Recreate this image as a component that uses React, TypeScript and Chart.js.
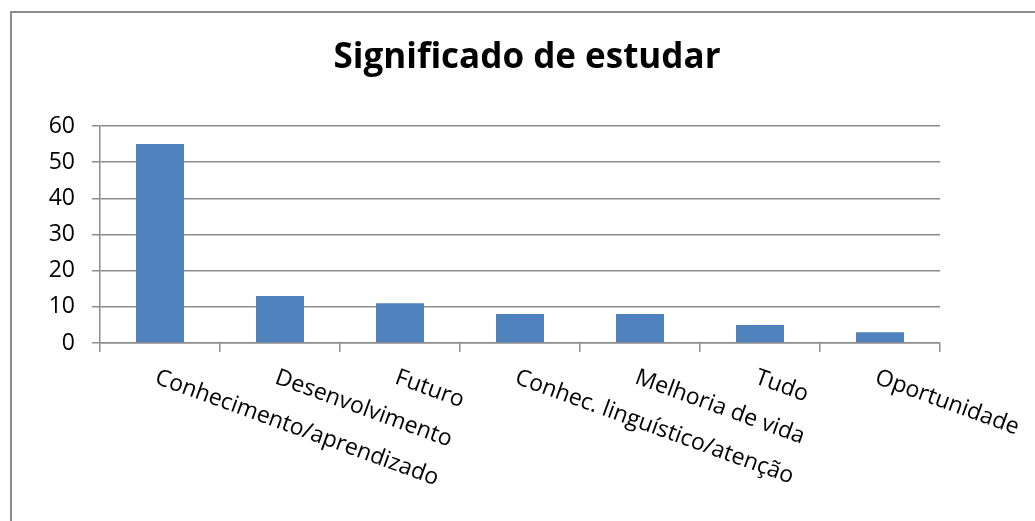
import React, { useEffect, useRef } from "react";
import { Chart, registerables } from "chart.js";

Chart.register(...registerables);

const chartTitle = "Significado de estudar";
const categories = [
  "Conhecimento/aprendizado",
  "Desenvolvimento",
  "Futuro",
  "Conhec. linguístico/atenção",
  "Melhoria de vida",
  "Tudo",
  "Oportunidade",
];
const values = [55, 13, 11, 8, 8, 5, 3];
const yTicks = [0, 10, 20, 30, 40, 50, 60];

const gridColor = "#8c8c8c";
const barColor = "#4F81BD";
const FONT = "'Open Sans', 'Noto Sans', sans-serif";

export default function App() {
  const ref = useRef<HTMLCanvasElement>(null);

  useEffect(() => {
    document.body.style.margin = "0";
    const canvas = ref.current;
    if (!canvas) return;

    const framePlugin = {
      id: "frame",
      beforeDraw(chart: any) {
        const c = chart.ctx;
        c.save();
        c.strokeStyle = "#8c8c8c";
        c.lineWidth = 2;
        c.beginPath();
        c.moveTo(11, chart.height);
        c.lineTo(11, 12);
        c.lineTo(chart.width, 12);
        c.stroke();
        c.restore();
      },
    };

    const titlePlugin = {
      id: "titleText",
      afterDraw(chart: any) {
        const c = chart.ctx;
        c.save();
        c.font = `bold 35px ${FONT}`;
        c.fillStyle = "#000";
        c.textAlign = "center";
        c.textBaseline = "middle";
        c.fillText(chartTitle, 527, 58);
        c.restore();
      },
    };

    const xLabelPlugin = {
      id: "xLabels",
      afterDraw(chart: any) {
        const c = chart.ctx;
        const xs = chart.scales.x;
        const y0 = chart.chartArea.bottom + 23;
        categories.forEach((lab, i) => {
          const x = xs.getPixelForValue(i);
          c.save();
          c.translate(x, y0);
          c.rotate((20 * Math.PI) / 180);
          c.font = `23px ${FONT}`;
          c.fillStyle = "#000";
          c.textAlign = "left";
          c.textBaseline = "top";
          c.fillText(lab, 0, 0);
          c.restore();
        });
      },
    };

    const chart = new Chart(canvas, {
      type: "bar",
      data: {
        labels: categories,
        datasets: [
          {
            data: values,
            backgroundColor: barColor,
            borderColor: barColor,
            borderWidth: 0,
            barPercentage: 0.4,
            categoryPercentage: 1.0,
          },
        ],
      },
      options: {
        responsive: false,
        animation: false,
        layout: { padding: { top: 126, right: 95, bottom: 0, left: 0 } },
        plugins: {
          legend: { display: false },
          title: { display: false },
          tooltip: { enabled: false },
        },
        scales: {
          x: {
            grid: {
              display: true,
              drawOnChartArea: false,
              drawTicks: true,
              tickLength: 9,
              color: gridColor,
              lineWidth: 1.5,
              offset: true,
            },
            border: { display: true, color: gridColor, width: 1.5 },
            ticks: { display: false },
            afterFit(s: any) {
              s.height = 178;
            },
          },
          y: {
            min: yTicks[0],
            max: yTicks[yTicks.length - 1],
            ticks: {
              stepSize: yTicks[1] - yTicks[0],
              font: { family: FONT, size: 23 },
              color: "#000",
              padding: 17,
            },
            grid: { color: gridColor, lineWidth: 1.5, tickLength: 8 },
            border: { display: true, color: gridColor, width: 1.5 },
            afterFit(s: any) {
              s.width = 100;
            },
          },
        },
      },
      plugins: [framePlugin, titlePlugin, xLabelPlugin],
    });

    return () => chart.destroy();
  }, []);

  return (
    <div style={{ position: "absolute", left: 0, top: 0, width: 1035, height: 521, background: "#fff" }}>
      <canvas ref={ref} width={1035} height={521} />
    </div>
  );
}
